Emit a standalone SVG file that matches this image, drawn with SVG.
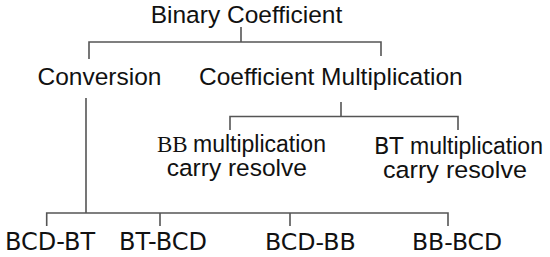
<svg xmlns="http://www.w3.org/2000/svg" width="550" height="257" viewBox="0 0 550 257">
<style>
.ln{stroke:#555;stroke-width:1.6;fill:none}
.t{font-family:"Liberation Sans",Arial,sans-serif;fill:#111}
.d{font-family:"DejaVu Sans",sans-serif;fill:#111}
.s{font-family:"Liberation Serif","Times New Roman",serif;fill:#111}
</style>
<rect width="550" height="257" fill="#fff"/>
<g id="connectors">
<path class="ln" d="M241 27V42M89 59V42H381V56"/>
<path class="ln" d="M86 98V213M46.7 226V213H448V226M160 213V226M290 213V226"/>
<path class="ln" d="M341 102V116.5M230 130V116.5H458V130"/>
</g>
<g id="root"><text class="t" x="150.7" y="23" font-size="24.5">Binary Coefficient</text></g>
<g id="conversion"><text class="t" x="37.5" y="85" font-size="24.5">Conversion</text></g>
<g id="coef-mult"><text class="t" x="199" y="85" font-size="24.5">Coefficient Multiplication</text></g>
<g id="bb-mult">
<text class="s" x="157" y="152" font-size="23">BB</text>
<text class="t" x="193" y="152" font-size="23">multiplication</text>
<text class="t" x="166.7" y="176" font-size="24.5">carry resolve</text>
</g>
<g id="bt-mult">
<text class="d" x="374" y="154" font-size="22.5">BT</text>
<text class="t" x="410" y="154" font-size="23">multiplication</text>
<text class="t" x="383" y="178" font-size="24.5" textLength="144" lengthAdjust="spacingAndGlyphs">carry resolve</text>
</g>
<g id="bcd-bt"><text class="d" x="5" y="250" font-size="24">BCD-BT</text></g>
<g id="bt-bcd"><text class="d" x="119" y="250" font-size="24">BT-BCD</text></g>
<g id="bcd-bb"><text class="d" x="265" y="250" font-size="23.7">BCD-BB</text></g>
<g id="bb-bcd"><text class="d" x="412" y="250" font-size="23.5">BB-BCD</text></g>
</svg>
